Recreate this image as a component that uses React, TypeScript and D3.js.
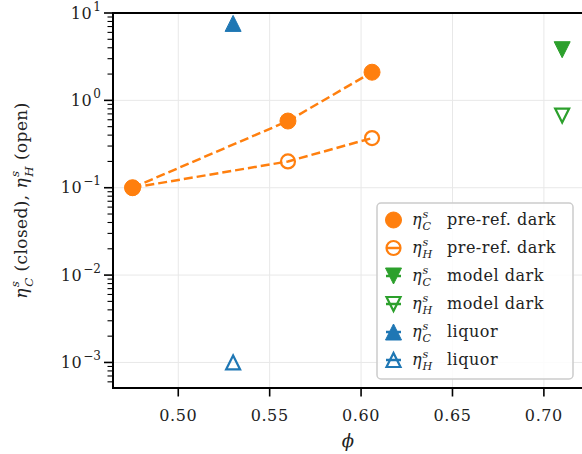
import React from "react";
import * as d3 from "d3";

// Viscosity data, by sample series
const phiPreRef = [0.475, 0.56, 0.606];
const etaCPreRef = [0.1, 0.58, 2.1];
const etaHPreRef = [0.1, 0.2, 0.37];

const phiModel = [0.71];
const etaCModel = [3.8];
const etaHModel = [0.67];

const phiLiquor = [0.53];
const etaCLiquor = [7.6];
const etaHLiquor = [0.001];

const xTicks = [0.5, 0.55, 0.6, 0.65, 0.7];
const xTickLabels = ["0.50", "0.55", "0.60", "0.65", "0.70"];
const yTickExps = [-3, -2, -1, 0, 1];

const legendSeries = ["pre-ref. dark", "pre-ref. dark", "model dark", "model dark", "liquor", "liquor"];
const legendSubs = ["C", "H", "C", "H", "C", "H"];

const ORANGE = "#ff7f0e";
const GREEN = "#2ca02c";
const BLUE = "#1f77b4";

const W = 582;
const H = 454;
const left = 113;
const right = 583;
const top = 13;
const bottom = 388;

const FONT = "'DejaVu Serif', serif";

const x = d3.scaleLinear().domain([0.4643, 0.7214]).range([left, right]);
const y = d3.scaleLog().domain([5.1e-4, 10]).range([bottom, top]);

const MS = 16;

type Kind = "circle" | "up" | "down";

function markerPath(kind: Kind, cx: number, cy: number, s: number) {
  const h = s / 2;
  const p = d3.path();
  if (kind === "circle") {
    p.arc(cx, cy, h, 0, Math.PI * 2);
    p.closePath();
    return p.toString();
  }
  if (kind === "up") {
    p.moveTo(cx, cy - h);
    p.lineTo(cx - h, cy + h);
    p.lineTo(cx + h, cy + h);
  } else {
    p.moveTo(cx, cy + h);
    p.lineTo(cx - h, cy - h);
    p.lineTo(cx + h, cy - h);
  }
  p.closePath();
  return p.toString();
}

function Marker({ kind, cx, cy, color, filled }: { kind: Kind; cx: number; cy: number; color: string; filled: boolean }) {
  const s = filled ? MS : MS - 2;
  return (
    <path
      d={markerPath(kind, cx, cy, s)}
      fill={filled ? color : "none"}
      stroke={color}
      strokeWidth={filled ? 1 : 2.2}
      strokeLinejoin="miter"
    />
  );
}

// eta with stacked superscript s and subscript C/H
function EtaParts({ sub, size }: { sub: string; size: number }) {
  const small = size * 0.7;
  return (
    <>
      <tspan fontStyle="italic">η</tspan>
      <tspan fontStyle="italic" fontSize={small} dx={1} dy={-size * 0.45}>s</tspan>
      <tspan fontStyle="italic" fontSize={small} dx={-small * 0.52} dy={size * 0.78}>{sub}</tspan>
      <tspan dy={-size * 0.33}> </tspan>
    </>
  );
}

export default function App() {
  const minorTicks: number[] = [];
  for (let e = -4; e <= 1; e++) {
    for (let m = 2; m <= 9; m++) {
      const v = m * Math.pow(10, e);
      if (v >= y.domain()[0] && v <= y.domain()[1]) minorTicks.push(v);
    }
  }

  const line = d3
    .line<[number, number]>()
    .x((d) => x(d[0]))
    .y((d) => y(d[1]));

  const preC = phiPreRef.map((p, i) => [p, etaCPreRef[i]] as [number, number]);
  const preH = phiPreRef.map((p, i) => [p, etaHPreRef[i]] as [number, number]);

  const legendX = 377;
  const legendY = 203;
  const legendW = 196;
  const legendH = 176;
  const rowY0 = 220;
  const rowStep = 28;
  const legendKinds: Kind[] = ["circle", "circle", "down", "down", "up", "up"];
  const legendColors = [ORANGE, ORANGE, GREEN, GREEN, BLUE, BLUE];
  const legendFilled = [true, false, true, false, true, false];

  return (
    <svg width={W} height={H} style={{ position: "absolute", left: 0, top: 0, background: "#fff" }} fontFamily={FONT}>
      <defs>
        <clipPath id="plotArea">
          <rect x={left} y={top} width={right - left} height={bottom - top} />
        </clipPath>
      </defs>

      {/* grid */}
      <g stroke="#e8e8e8" strokeWidth={1}>
        {xTicks.map((t) => (
          <line key={"gx" + t} x1={x(t)} x2={x(t)} y1={top} y2={bottom} />
        ))}
        {yTickExps.map((e) => (
          <line key={"gy" + e} x1={left} x2={right} y1={y(Math.pow(10, e))} y2={y(Math.pow(10, e))} />
        ))}
      </g>

      {/* data */}
      <g clipPath="url(#plotArea)">
        <path d={line(preC) || ""} fill="none" stroke={ORANGE} strokeWidth={2.5} strokeDasharray="9,4" />
        <path d={line(preH) || ""} fill="none" stroke={ORANGE} strokeWidth={2.5} strokeDasharray="9,4" />
        {preH.map((d, i) => (
          <Marker key={"ph" + i} kind="circle" cx={x(d[0])} cy={y(d[1])} color={ORANGE} filled={false} />
        ))}
        {preC.map((d, i) => (
          <Marker key={"pc" + i} kind="circle" cx={x(d[0])} cy={y(d[1])} color={ORANGE} filled={true} />
        ))}
        {phiModel.map((p, i) => (
          <Marker key={"mc" + i} kind="down" cx={x(p)} cy={y(etaCModel[i])} color={GREEN} filled={true} />
        ))}
        {phiModel.map((p, i) => (
          <Marker key={"mh" + i} kind="down" cx={x(p)} cy={y(etaHModel[i])} color={GREEN} filled={false} />
        ))}
        {phiLiquor.map((p, i) => (
          <Marker key={"lc" + i} kind="up" cx={x(p)} cy={y(etaCLiquor[i])} color={BLUE} filled={true} />
        ))}
        {phiLiquor.map((p, i) => (
          <Marker key={"lh" + i} kind="up" cx={x(p)} cy={y(etaHLiquor[i])} color={BLUE} filled={false} />
        ))}
      </g>

      {/* spines */}
      <g stroke="#000" strokeWidth={2} fill="none">
        <line x1={left} x2={left} y1={top - 1} y2={bottom + 1} />
        <line x1={left - 1} x2={right} y1={bottom} y2={bottom} />
        <line x1={left - 1} x2={right} y1={top} y2={top} />
      </g>

      {/* x ticks */}
      <g>
        {xTicks.map((t, i) => (
          <g key={"xt" + t}>
            <line x1={x(t)} x2={x(t)} y1={bottom} y2={bottom + 8.5} stroke="#000" strokeWidth={1.6} />
            <text x={x(t)} y={421} fontSize={16} letterSpacing={0.6} textAnchor="middle" fill="#222">
              {xTickLabels[i]}
            </text>
          </g>
        ))}
      </g>

      {/* y ticks */}
      <g>
        {minorTicks.map((v) => (
          <line key={"ym" + v} x1={left - 5.5} x2={left} y1={y(v)} y2={y(v)} stroke="#000" strokeWidth={1.1} />
        ))}
        {yTickExps.map((e) => (
          <g key={"yt" + e}>
            <line x1={left - 9} x2={left} y1={y(Math.pow(10, e))} y2={y(Math.pow(10, e))} stroke="#000" strokeWidth={1.6} />
            <text x={101} y={y(Math.pow(10, e)) + 5.5} fontSize={16} textAnchor="end" fill="#222">
              <tspan letterSpacing={0.6}>10</tspan>
              <tspan fontSize={12} dx={1} dy={-8}>{e < 0 ? "−" + Math.abs(e) : String(e)}</tspan>
            </text>
          </g>
        ))}
      </g>

      {/* axis labels */}
      <text x={348} y={447} fontSize={18} textAnchor="middle" fontStyle="italic" fill="#222">
        ϕ
      </text>
      <g transform={`translate(27,${(top + bottom) / 2}) rotate(-90)`}>
        <text x={0} y={0} fontSize={17} textAnchor="middle" fill="#222" letterSpacing={0.4}>
          <EtaParts sub="C" size={17} />
          <tspan>(closed), </tspan>
          <EtaParts sub="H" size={17} />
          <tspan>(open)</tspan>
        </text>
      </g>

      {/* legend */}
      <rect x={legendX} y={legendY} width={legendW} height={legendH} rx={4} fill="#fff" fillOpacity={0.85} stroke="#cccccc" strokeWidth={1.5} />
      {legendSeries.map((name, i) => {
        const cy = rowY0 + i * rowStep;
        const cx = 393.5;
        return (
          <g key={"lg" + i}>
            <line x1={cx - 7.5} x2={cx + 7.5} y1={cy} y2={cy} stroke={legendColors[i]} strokeWidth={2.5} />
            <Marker kind={legendKinds[i]} cx={cx} cy={cy} color={legendColors[i]} filled={legendFilled[i]} />
            <text x={412} y={cy + 5} fontSize={16} fill="#222">
              <EtaParts sub={legendSubs[i]} size={16} />
            </text>
            <text x={447} y={cy + 5} fontSize={16} fill="#222" letterSpacing={0.5}>
              {name}
            </text>
          </g>
        );
      })}
    </svg>
  );
}
